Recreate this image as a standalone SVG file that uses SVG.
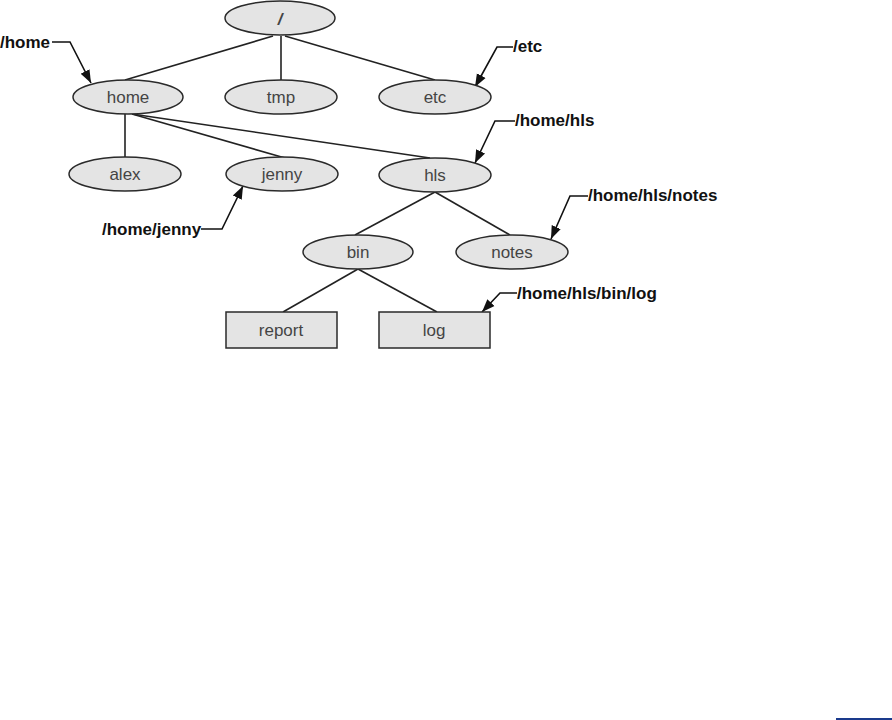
<svg xmlns="http://www.w3.org/2000/svg" width="892" height="720" viewBox="0 0 892 720">
<style>
.n{fill:#e4e4e4;stroke:#2a2a2a;stroke-width:1.5}
.t{font-family:"Liberation Sans",Arial,sans-serif;font-size:17px;fill:#444;text-anchor:middle}
.c{stroke:#222;stroke-width:1.6;fill:none}
.co{stroke:#111;stroke-width:1.6;fill:none}
.l{font-family:"Liberation Sans",Arial,sans-serif;font-size:17px;font-weight:bold;fill:#111}
</style>
<defs>
<marker id="ah" viewBox="0 0 10 10" refX="10" refY="5" markerWidth="13" markerHeight="13" markerUnits="userSpaceOnUse" orient="auto">
<path d="M0,1.2 L10,5 L0,8.8 z" fill="#111"/>
</marker>
</defs>
<rect width="892" height="720" fill="#fff"/>
<g id="connectors">
<line class="c" x1="273" y1="36" x2="125" y2="80"/>
<line class="c" x1="281" y1="36" x2="281" y2="80"/>
<line class="c" x1="285" y1="36" x2="435" y2="80"/>
<line class="c" x1="125" y1="114" x2="125" y2="158"/>
<line class="c" x1="132" y1="114" x2="285" y2="158"/>
<line class="c" x1="132" y1="114" x2="430" y2="158"/>
<line class="c" x1="435" y1="192" x2="355" y2="235"/>
<line class="c" x1="435" y1="192" x2="510" y2="235"/>
<line class="c" x1="358" y1="269" x2="283" y2="312"/>
<line class="c" x1="358" y1="269" x2="437" y2="312"/>
</g>
<g id="callouts">
<path class="co" d="M52,42 H70 L91,83" marker-end="url(#ah)"/>
<path class="co" d="M513,47 H497 L475,87" marker-end="url(#ah)"/>
<path class="co" d="M515,121 H495 L475,163" marker-end="url(#ah)"/>
<path class="co" d="M588,196 H570 L551,239" marker-end="url(#ah)"/>
<path class="co" d="M201,229 H222 L243,186" marker-end="url(#ah)"/>
<path class="co" d="M517,293 H500 L482,312" marker-end="url(#ah)"/>
<text class="l" x="0" y="48">/home</text>
<text class="l" x="513" y="52">/etc</text>
<text class="l" x="515" y="126">/home/hls</text>
<text class="l" x="588" y="201">/home/hls/notes</text>
<text class="l" x="102" y="235">/home/jenny</text>
<text class="l" x="517" y="299">/home/hls/bin/log</text>
</g>
<g id="root"><ellipse class="n" cx="280" cy="18" rx="55" ry="17"/><text class="t" x="280" y="25" font-style="italic" font-weight="bold">/</text></g>
<g id="home"><ellipse class="n" cx="128" cy="97" rx="55" ry="17"/><text class="t" x="128" y="103">home</text></g>
<g id="tmp"><ellipse class="n" cx="281" cy="97" rx="56" ry="17"/><text class="t" x="281" y="103">tmp</text></g>
<g id="etc"><ellipse class="n" cx="435" cy="97" rx="56" ry="17"/><text class="t" x="435" y="103">etc</text></g>
<g id="alex"><ellipse class="n" cx="125" cy="174" rx="56" ry="17"/><text class="t" x="125" y="180">alex</text></g>
<g id="jenny"><ellipse class="n" cx="282" cy="174" rx="56" ry="17"/><text class="t" x="282" y="180">jenny</text></g>
<g id="hls"><ellipse class="n" cx="435" cy="175" rx="56" ry="17"/><text class="t" x="435" y="181">hls</text></g>
<g id="bin"><ellipse class="n" cx="358" cy="252" rx="55" ry="17"/><text class="t" x="358" y="258">bin</text></g>
<g id="notes"><ellipse class="n" cx="512" cy="252" rx="56" ry="17"/><text class="t" x="512" y="258">notes</text></g>
<g id="report"><rect class="n" x="226" y="312" width="111" height="36"/><text class="t" x="281" y="336">report</text></g>
<g id="log"><rect class="n" x="379" y="312" width="111" height="36"/><text class="t" x="434" y="336">log</text></g>
<line x1="836" y1="719" x2="892" y2="719" stroke="#1a3a8c" stroke-width="2"/>
</svg>
